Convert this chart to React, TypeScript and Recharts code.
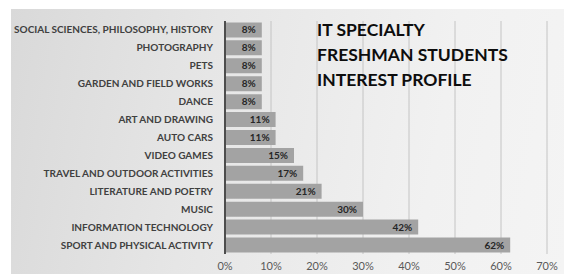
import React from "react";
import {
  BarChart,
  Bar,
  XAxis,
  YAxis,
  CartesianGrid,
  LabelList,
} from "recharts";

const categories = [
  "SOCIAL SCIENCES, PHILOSOPHY, HISTORY",
  "PHOTOGRAPHY",
  "PETS",
  "GARDEN AND FIELD WORKS",
  "DANCE",
  "ART AND DRAWING",
  "AUTO CARS",
  "VIDEO GAMES",
  "TRAVEL AND OUTDOOR ACTIVITIES",
  "LITERATURE AND POETRY",
  "MUSIC",
  "INFORMATION TECHNOLOGY",
  "SPORT AND PHYSICAL ACTIVITY",
];
const shares = [8, 8, 8, 8, 8, 11, 11, 15, 17, 21, 30, 42, 62];
const xTicks = [0, 10, 20, 30, 40, 50, 60, 70];
const titleLines = ["IT SPECIALTY", "FRESHMAN STUDENTS", "INTEREST PROFILE"];

const data = categories.map((name, i) => ({ name, value: shares[i] }));

const font = "Lato, 'Open Sans', sans-serif";

// plain text tick so long names stay on one line
const CategoryTick = (props: any) => {
  const { x, y, payload } = props;
  return (
    <text
      x={x}
      y={y}
      dy={3.5}
      textAnchor="end"
      fontSize={10}
      fontWeight={700}
      fill="#404040"
      fontFamily={font}
    >
      {payload.value}
    </text>
  );
};

export default function App() {
  return (
    <div
      style={{
        position: "absolute",
        left: 0,
        top: 0,
        width: 564,
        height: 274,
        background: "#fff",
        fontFamily: font,
        overflow: "hidden",
      }}
    >
      <div
        style={{
          position: "absolute",
          left: 11,
          top: 9,
          width: 553,
          height: 265,
          background:
            "linear-gradient(100deg, #d9d9d9 0%, #e6e6e6 35%, #f1f1f1 75%, #f4f4f4 100%)",
        }}
      />
      <div style={{ position: "absolute", left: 0, top: 0 }}>
        <BarChart
          width={564}
          height={274}
          data={data}
          layout="vertical"
          margin={{ top: 21, right: 17, left: 0, bottom: 0 }}
          barCategoryGap="8%"
        >
          <CartesianGrid horizontal={false} stroke="#c4c4c4" />
          <XAxis
            type="number"
            domain={[0, 70]}
            ticks={xTicks}
            tickFormatter={(v) => `${v}%`}
            axisLine={false}
            tickLine={false}
            height={20}
            interval={0}
            tick={{ fontSize: 11, fill: "#595959", fontFamily: font }}
          />
          <YAxis
            type="category"
            dataKey="name"
            width={225}
            interval={0}
            tickLine={false}
            tickMargin={6}
            axisLine={{ stroke: "#4d4d4d", strokeWidth: 2 }}
            tick={<CategoryTick />}
          />
          <Bar dataKey="value" fill="#a3a3a3" isAnimationActive={false}>
            <LabelList
              dataKey="value"
              position="insideRight"
              offset={6}
              formatter={(v: number) => `${v}%`}
              style={{
                fontSize: 10,
                fontWeight: 700,
                fill: "#262626",
                fontFamily: font,
              }}
            />
          </Bar>
        </BarChart>
      </div>
      <div
        style={{
          position: "absolute",
          left: 317,
          top: 17,
          fontSize: 17.5,
          fontWeight: 700,
          lineHeight: "25px",
          color: "#0d0d0d",
        }}
      >
        {titleLines.map((t) => (
          <div key={t}>{t}</div>
        ))}
      </div>
    </div>
  );
}
